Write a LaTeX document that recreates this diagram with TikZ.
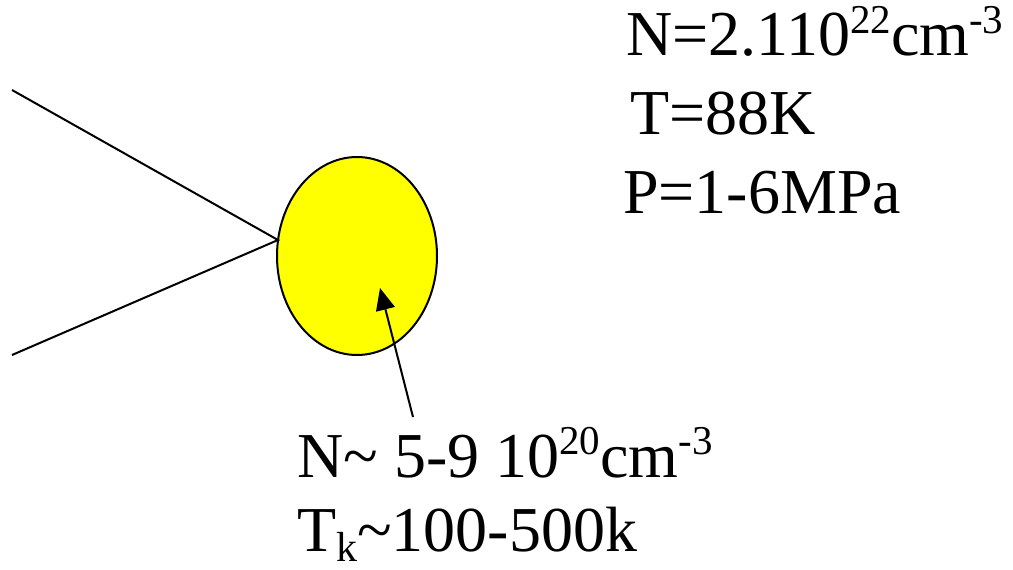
\documentclass[tikz,border=0pt]{standalone}
\usepackage{fontspec}
\setmainfont{Liberation Serif}
\usetikzlibrary{arrows.meta,shapes.geometric}
\definecolor{blobyellow}{RGB}{255,255,0}
\newcommand\supx[1]{\raisebox{23pt}{\fontsize{41}{41}\selectfont #1}}
\newcommand\subx[1]{\raisebox{-10pt}{\fontsize{42}{42}\selectfont #1}}
\begin{document}
\begin{tikzpicture}[x=1pt,y=-1pt,
  lbl/.style={anchor=base west,inner sep=0pt,font=\fontsize{64}{77}\selectfont},
  thin line/.style={line width=2pt,black},
  blobstyle/.style={ellipse,draw=black,line width=2pt,fill=blobyellow,minimum width=160pt,minimum height=198pt,inner sep=0pt}]
\useasboundingbox (0,0) rectangle (1013,570);
\node[blobstyle] (blob) at (357,256) {};
\coordinate (a1) at (12,90);
\coordinate (a2) at (12,355);
\coordinate (junc) at (278,240);
\draw[thin line] (a1) -- (junc) -- (a2);
\coordinate (tail) at (413,417);
\coordinate (tip) at (380,288);
\draw[thin line,-{Triangle[length=22pt,width=19pt]}] (tail) -- (tip);
\node[lbl] (nlab1) at (626,56) {N=2.110\supx{22}cm\supx{-3}};
\node[lbl] (tlab1) at (630,134) {T=88K};
\node[lbl] (plab1) at (623,213) {P=1-6MPa};
\node[lbl] (nlab2) at (297,477) {N\textasciitilde{} 5-9 10\supx{20}cm\supx{-3}};
\node[lbl] (tlab2) at (297,551) {T\subx{k}\textasciitilde100-500k};
\end{tikzpicture}
\end{document}
